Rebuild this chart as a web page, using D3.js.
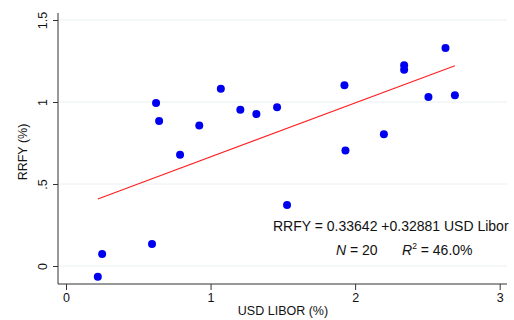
<!DOCTYPE html>
<html><head><meta charset="utf-8">
<script src="https://cdn.jsdelivr.net/npm/d3@7"></script>
<style>body{margin:0;background:#fff}svg{display:block}text{font-family:"Liberation Sans",Arial,sans-serif}</style>
</head><body>
<svg id="c" width="514" height="320"></svg>
<script>
const liborX = [0.22,0.25,0.595,0.623,0.644,0.789,0.922,1.071,1.206,1.317,1.46,1.529,1.926,1.933,2.199,2.339,2.339,2.507,2.625,2.69];
const rrfyY  = [-0.065,0.073,0.134,0.994,0.884,0.679,0.856,1.081,0.953,0.927,0.968,0.372,1.102,0.705,0.803,1.224,1.197,1.03,1.329,1.041];
const xTicks = [0,1,2,3];
const xTickLabels = ["0","1","2","3"];
const yTicks = [0,0.5,1,1.5];
const yTickLabels = ["0",".5","1","1.5"];
const intercept = 0.33642, slope = 0.32881;
const nObs = 20, r2 = "46.0%";

const svg = d3.select("#c");
const x = d3.scaleLinear().domain([0,3]).range([66,499.7]);
const y = d3.scaleLinear().domain([0,1.5]).range([266,20]);
const pL = 58, pR = 507, pT = 13, pB = 284;
const fs = 12.5;

// gridlines
svg.append("g").selectAll("line").data(yTicks).join("line")
  .attr("x1",pL).attr("x2",pR).attr("y1",d=>y(d)).attr("y2",d=>y(d))
  .attr("stroke","#e8f0f2").attr("stroke-width",1);

// y axis
const ya = svg.append("g").attr("transform",`translate(${pL},0)`)
  .call(d3.axisLeft(y).tickValues(yTicks).tickFormat((d,i)=>yTickLabels[i]).tickSize(5).tickSizeOuter(0));
ya.select(".domain").attr("d",`M0,${pT}V${pB}`).attr("stroke","#333");
ya.selectAll(".tick line").attr("stroke","#333");
ya.selectAll(".tick text").attr("transform","rotate(-90)").attr("x",0).attr("y",-11).attr("dy",0)
  .attr("text-anchor","middle").attr("font-size",fs).attr("fill","#111").attr("font-family","Liberation Sans, Arial, sans-serif");

// x axis
const xa = svg.append("g").attr("transform",`translate(0,${pB})`)
  .call(d3.axisBottom(x).tickValues(xTicks).tickFormat((d,i)=>xTickLabels[i]).tickSize(6).tickSizeOuter(0));
xa.select(".domain").attr("d",`M${pL},0H${pR}`).attr("stroke","#333");
xa.selectAll(".tick line").attr("stroke","#333");
xa.selectAll(".tick text").attr("y",9).attr("dy","0.71em")
  .attr("font-size",fs).attr("fill","#111").attr("font-family","Liberation Sans, Arial, sans-serif");

// titles
svg.append("text").attr("transform","translate(27,152) rotate(-90)").attr("text-anchor","middle")
  .attr("font-size",fs).attr("fill","#111").text("RRFY (%)");
svg.append("text").attr("x",283).attr("y",315).attr("text-anchor","middle")
  .attr("font-size",fs).attr("fill","#111").text("USD LIBOR (%)");

// points
const pts = liborX.map((v,i)=>({x:v,y:rrfyY[i]}));
svg.append("g").selectAll("circle").data(pts).join("circle")
  .attr("cx",d=>x(d.x)).attr("cy",d=>y(d.y)).attr("r",4).attr("fill","#0000f0");

// fit line
const xmin = d3.min(liborX), xmax = d3.max(liborX);
svg.append("line").attr("x1",x(xmin)).attr("y1",y(intercept+slope*xmin))
  .attr("x2",x(xmax)).attr("y2",y(intercept+slope*xmax))
  .attr("stroke","#ff2020").attr("stroke-width",1.2);

// annotation
svg.append("text").attr("x",273).attr("y",230.5).attr("font-size",14).attr("fill","#111")
  .text(`RRFY = ${intercept.toFixed(5)} +${slope.toFixed(5)} USD Libor`);
const t2 = svg.append("text").attr("x",336).attr("y",254.5).attr("font-size",14).attr("fill","#111");
t2.append("tspan").attr("font-style","italic").text("N");
t2.append("tspan").text(` = ${nObs}`);
const t3 = svg.append("text").attr("x",402).attr("y",254.5).attr("font-size",14).attr("fill","#111");
t3.append("tspan").attr("font-style","italic").text("R");
t3.append("tspan").attr("font-size",8.5).attr("dy",-5.5).text("2");
t3.append("tspan").attr("dy",5.5).text(` = ${r2}`);
</script>
</body></html>
